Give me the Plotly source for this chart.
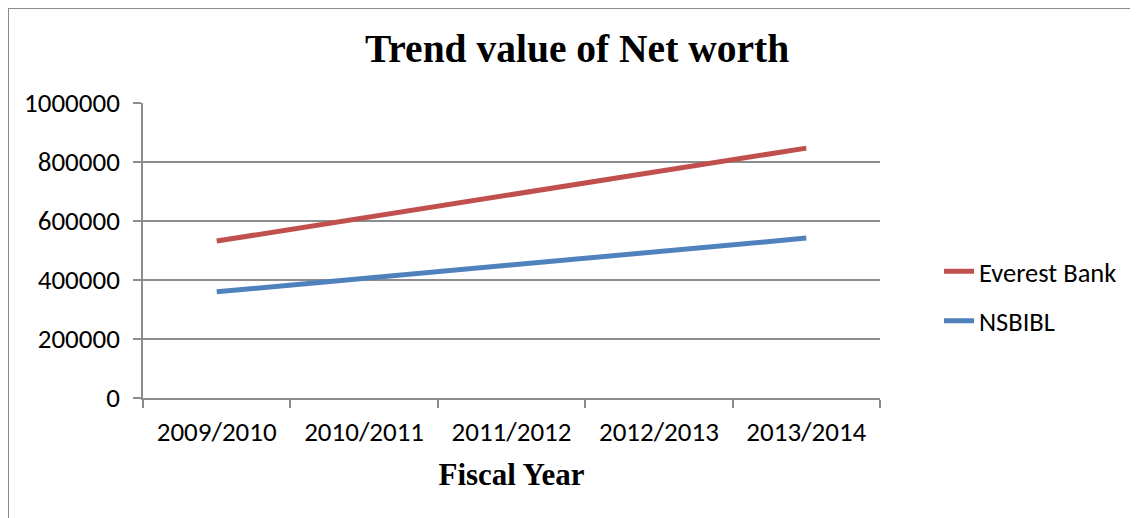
import plotly.graph_objects as go

years = ["2009/2010", "2010/2011", "2011/2012", "2012/2013", "2013/2014"]
everest = [532000, 611000, 690000, 769000, 847000]
nsbibl = [360000, 405000, 451000, 496000, 542000]

FONT = "Carlito, Calibri, Lato, 'Liberation Sans', sans-serif"
SERIF = "'Liberation Serif', 'DejaVu Serif', serif"
GRID = "#8c8c8c"

# figure sits at page offset (8, 8); plot area in page: x 143-880, y 103-398
W, H = 1130, 510
L, T, R, B = 135, 95, 258, 120
PW, PH = W - L - R, H - T - B

fig = go.Figure()
fig.add_trace(go.Scatter(x=years, y=everest, mode="lines", name="Everest Bank",
                         legendgroup="a", line=dict(color="#c0504d", width=5)))
fig.add_trace(go.Scatter(x=years, y=nsbibl, mode="lines", name="NSBIBL",
                         legendgroup="b", line=dict(color="#4f81bd", width=5)))

fig.update_layout(
    width=W, height=H,
    margin=dict(l=L, r=R, t=T, b=B),
    paper_bgcolor="white", plot_bgcolor="white",
    font=dict(family=FONT, size=26, color="black"),
    title=dict(text="<b>Trend value of Net worth</b>", x=569 / W, xanchor="center",
               y=1 - 40 / H, yanchor="middle",
               font=dict(family=SERIF, size=39.5, color="black")),
    showlegend=True,
    legend=dict(x=(939 - 8 - L) / PW, xanchor="left",
                y=(H - B - (296 - 8)) / PH, yanchor="middle",
                font=dict(family=FONT, size=26.5, color="black"),
                traceorder="grouped", tracegroupgap=12, bgcolor="rgba(0,0,0,0)"),
    shapes=[
        dict(type="line", xref="paper", yref="paper", x0=-L / PW, x1=1.5,
             y0=(H - B) / PH, y1=(H - B) / PH, line=dict(color=GRID, width=2)),
        dict(type="line", xref="paper", yref="paper", x0=-L / PW, x1=-L / PW,
             y0=(H - B) / PH, y1=-1, line=dict(color=GRID, width=2)),
    ],
)
fig.update_xaxes(type="category", tickson="boundaries", ticks="outside", ticklen=8,
                 tickcolor=GRID, tickwidth=1.5, showline=True, linecolor=GRID, linewidth=1.5,
                 showgrid=False, range=[-0.5, 4.5], ticklabelstandoff=9,
                 title=dict(text="<b>Fiscal Year</b>", standoff=16,
                            font=dict(family=SERIF, size=31)),
                 tickfont=dict(family=FONT, size=27))
fig.update_yaxes(range=[0, 1000000], tickvals=[0, 200000, 400000, 600000, 800000, 1000000],
                 ticktext=["0", "200000", "400000", "600000", "800000", "1000000"],
                 ticks="outside", ticklen=8, tickcolor=GRID, tickwidth=1.5,
                 showline=True, linecolor=GRID, linewidth=1.5, ticklabelstandoff=8,
                 showgrid=True, gridcolor=GRID, gridwidth=1.5, zeroline=False,
                 tickfont=dict(family=FONT, size=27))

fig.write_html("out.html")
